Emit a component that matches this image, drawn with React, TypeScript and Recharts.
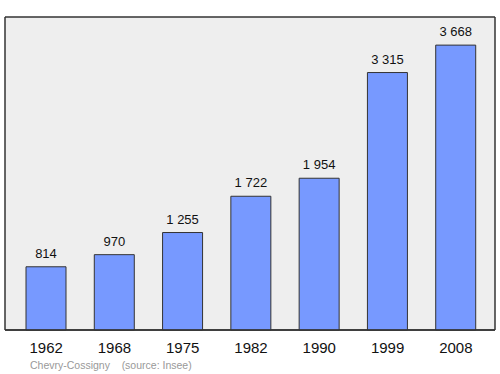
import { BarChart, Bar, XAxis, YAxis, LabelList, CartesianGrid } from 'recharts'

const years = ['1962', '1968', '1975', '1982', '1990', '1999', '2008']
const population = [814, 970, 1255, 1722, 1954, 3315, 3668]
const townName = 'Chevry-Cossigny'
const sourceNote = '(source: Insee)'

const data = years.map((y, i) => ({ year: y, pop: population[i] }))

// thousands separator as a non-breaking space so labels stay on one line
const fmt = (v: number) => String(v).replace(/\B(?=(\d{3})+(?!\d))/g, '\u00a0')

const font = '"Liberation Sans", Arial, sans-serif'

export default function App() {
  return (
    <div style={{ position: 'absolute', left: 0, top: 0, width: 500, height: 374, background: '#fff' }}>
      <BarChart width={500} height={374} data={data} margin={{ top: 17, right: 5, bottom: 14, left: 5 }}>
        {/* grey plot background with a dark frame on the plot edges */}
        <CartesianGrid
          fill="#eeeeee"
          stroke="#333"
          strokeWidth={1.5}
          horizontalCoordinatesGenerator={({ offset }: any) => [offset.top, offset.top + offset.height]}
          verticalCoordinatesGenerator={({ offset }: any) => [offset.left, offset.left + offset.width]}
        />
        <XAxis
          dataKey="year"
          axisLine={{ stroke: '#333', strokeWidth: 1.5 }}
          tickLine={false}
          tickMargin={6}
          height={30}
          padding={{ left: 7, right: 5 }}
          tick={{ fill: '#111', fontSize: 15, fontFamily: font }}
        />
        <YAxis hide domain={[0, 4030]} />
        <Bar dataKey="pop" fill="#7799ff" stroke="#333" strokeWidth={1} barSize={40} isAnimationActive={false}>
          <LabelList dataKey="pop" position="top" offset={9} formatter={(v: any) => fmt(Number(v))}
            style={{ fill: '#111', fontSize: 13, fontFamily: font }} />
        </Bar>
        <text x={30} y={369} fill="#999" fontSize={10.5} fontFamily={font}>
          {townName}{'\u00a0\u00a0\u00a0\u00a0'}{sourceNote}
        </text>
      </BarChart>
    </div>
  )
}
